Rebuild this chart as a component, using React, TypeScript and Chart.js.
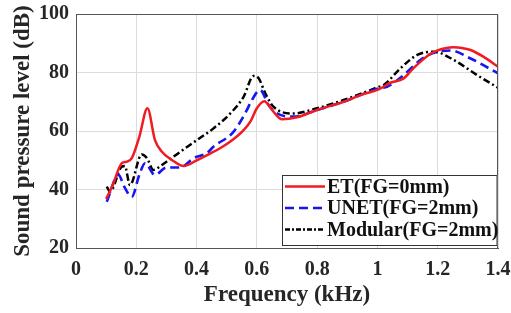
import React, { useEffect, useRef } from "react";
import { Chart, registerables } from "chart.js";

Chart.register(...registerables);

const etFreq = [0.1, 0.12, 0.152, 0.168, 0.185, 0.21, 0.237, 0.262, 0.285, 0.318, 0.357, 0.401, 0.44, 0.478, 0.52, 0.556, 0.58, 0.6, 0.625, 0.645, 0.66, 0.683, 0.733, 0.8, 0.888, 0.95, 1.004, 1.043, 1.087, 1.115, 1.143, 1.17, 1.198, 1.225, 1.253, 1.28, 1.309, 1.35, 1.4];
const etDb = [36.8, 41, 49, 49.5, 50.7, 58, 67.8, 56.9, 52.9, 50.1, 48, 50, 52, 54.1, 57, 60.3, 63.5, 67.8, 70.2, 68, 66, 64, 64.7, 67.2, 70, 72.5, 74.2, 76.5, 78, 81, 83.7, 86, 87.5, 88.3, 88.6, 88.4, 87.7, 85.5, 82];

const unetFreq = [0.102, 0.141, 0.16, 0.185, 0.21, 0.229, 0.262, 0.3, 0.345, 0.39, 0.435, 0.456, 0.523, 0.567, 0.578, 0.611, 0.639, 0.667, 0.722, 0.8, 0.888, 1.004, 1.032, 1.087, 1.143, 1.198, 1.243, 1.309, 1.4];
const unetDb = [35.8, 45, 41, 37.5, 45, 49, 45, 47.5, 47.5, 50.7, 52.5, 54.6, 59.8, 67.2, 69.5, 74, 68.9, 66, 64.9, 67.2, 70, 74.6, 75.1, 79.1, 84.3, 87.1, 87.5, 84.8, 79.7];

const modFreq = [0.102, 0.113, 0.152, 0.162, 0.179, 0.218, 0.235, 0.257, 0.285, 0.346, 0.401, 0.456, 0.512, 0.556, 0.589, 0.606, 0.628, 0.655, 0.722, 0.8, 0.888, 0.977, 1.004, 1.021, 1.076, 1.132, 1.187, 1.253, 1.331, 1.403];
const modDb = [41, 39.3, 47.8, 48, 41.5, 52, 50.8, 46.7, 48.4, 52.9, 56.9, 60.9, 66, 71.7, 78.8, 78, 72.9, 68.3, 66, 67.8, 70.6, 74, 75.1, 75.7, 81.4, 86, 87.1, 84.3, 79.1, 74.6];

const seriesLabels = ["ET(FG=0mm)", "UNET(FG=2mm)", "Modular(FG=2mm)"];
const xTicks = [0, 0.2, 0.4, 0.6, 0.8, 1, 1.2, 1.4];
const xTickLabels = ["0", "0.2", "0.4", "0.6", "0.8", "1", "1.2", "1.4"];
const yTicks = [20, 40, 60, 80, 100];
const yTickLabels = ["20", "40", "60", "80", "100"];

const FONT = "'Liberation Serif', 'Times New Roman', serif";
const RED = "rgb(240,28,34)";
const BLUE = "rgb(22,22,240)";
const BLACK = "rgb(0,0,0)";
const dashes = [[], [9, 5], [7, 3, 2, 3]];
const colors = [RED, BLUE, BLACK];
const widths = [2.5, 2.6, 2.5];

const toPts = (f: number[], d: number[]) => f.map((x, i) => ({ x, y: d[i] }));

const zeroPad = (s: any) => {
  s.paddingLeft = 0;
  s.paddingRight = 0;
  s.paddingTop = 0;
  s.paddingBottom = 0;
};

const boxAndLegend = {
  id: "boxAndLegend",
  afterDatasetsDraw(chart: any) {
    const { ctx, chartArea } = chart;
    const { left, right, top, bottom } = chartArea;
    ctx.save();
    ctx.strokeStyle = "#555";
    ctx.lineWidth = 1;
    ctx.strokeRect(left + 0.5, top + 0.5, right - left - 1, bottom - top);
    const lx = right - 216;
    const ly = bottom - 73;
    const lw = 215.5;
    const lh = 71;
    ctx.fillStyle = "#fff";
    ctx.fillRect(lx, ly, lw, lh);
    ctx.strokeStyle = "#333";
    ctx.strokeRect(lx + 0.5, ly + 0.5, lw - 1, lh - 1);
    ctx.font = `bold 20px ${FONT}`;
    ctx.textBaseline = "middle";
    ctx.textAlign = "left";
    seriesLabels.forEach((lab, i) => {
      const cy = ly + 11.5 + i * 21.5;
      ctx.beginPath();
      ctx.setLineDash(i === 2 ? [5, 2, 2, 2] : dashes[i]);
      ctx.strokeStyle = colors[i];
      ctx.lineWidth = widths[i];
      ctx.moveTo(lx + 3, cy);
      ctx.lineTo(lx + 43, cy);
      ctx.stroke();
      ctx.setLineDash([]);
      ctx.fillStyle = "#111";
      ctx.fillText(lab, lx + 45, cy + 1);
    });
    ctx.restore();
  },
};

export default function App() {
  const ref = useRef<HTMLCanvasElement>(null);
  useEffect(() => {
    const canvas = ref.current;
    if (!canvas) return;
    const tickFont = { family: FONT, size: 20, weight: "bold" as const };
    const titleFont = { family: FONT, size: 23, weight: "bold" as const };
    const common = { pointRadius: 0, cubicInterpolationMode: "monotone" as const, fill: false };
    const chart = new Chart(canvas, {
      type: "line",
      data: {
        datasets: [
          { label: seriesLabels[0], data: toPts(etFreq, etDb), borderColor: RED, borderWidth: widths[0], ...common },
          { label: seriesLabels[1], data: toPts(unetFreq, unetDb), borderColor: BLUE, borderWidth: widths[1], borderDash: dashes[1], ...common },
          { label: seriesLabels[2], data: toPts(modFreq, modDb), borderColor: BLACK, borderWidth: widths[2], borderDash: dashes[2], ...common },
        ],
      },
      options: {
        responsive: false,
        animation: false,
        layout: { padding: { top: 14, right: 13, left: 0, bottom: 0 } },
        plugins: { legend: { display: false }, tooltip: { enabled: false } },
        scales: {
          x: {
            type: "linear",
            min: 0,
            max: 1.4,
            afterBuildTicks: (axis: any) => {
              axis.ticks = xTicks.map((v) => ({ value: v }));
            },
            afterFit: (s: any) => {
              s.height = 65;
              zeroPad(s);
            },
            ticks: {
              callback: (_v: any, i: number) => xTickLabels[i],
              font: tickFont,
              color: "#262626",
              padding: 10,
              maxRotation: 0,
              autoSkip: false,
            },
            grid: { color: "#dcdcdc", drawTicks: false },
            border: { color: "#555", width: 1 },
            title: { display: true, text: "Frequency (kHz)", font: titleFont, color: "#262626", padding: { top: 0, bottom: 4 } },
          },
          y: {
            type: "linear",
            min: 20,
            max: 100,
            afterBuildTicks: (axis: any) => {
              axis.ticks = yTicks.map((v) => ({ value: v }));
            },
            afterFit: (s: any) => {
              s.width = 76;
              zeroPad(s);
            },
            ticks: {
              callback: (_v: any, i: number) => yTickLabels[i],
              font: tickFont,
              color: "#262626",
              padding: 7,
            },
            grid: { color: "#dcdcdc", drawTicks: false },
            border: { color: "#555", width: 1 },
            title: { display: true, text: "Sound pressure level (dB)", font: titleFont, color: "#262626", padding: { top: 9, bottom: 0 } },
          },
        },
      },
      plugins: [boxAndLegend],
    });
    return () => chart.destroy();
  }, []);
  return (
    <div style={{ position: "absolute", left: 0, top: 0, width: 511, height: 313, background: "#fff" }}>
      <canvas ref={ref} width={511} height={313} />
    </div>
  );
}
